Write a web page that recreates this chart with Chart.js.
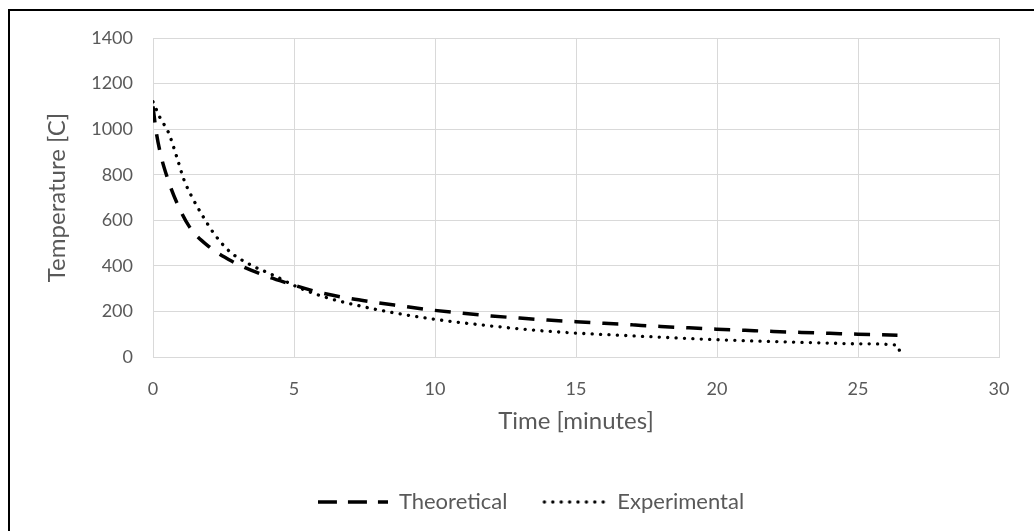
<!DOCTYPE html>
<html><head><meta charset="utf-8">
<script src="https://cdn.jsdelivr.net/npm/chart.js@4.4.1/dist/chart.umd.min.js"></script>
<style>
html,body{margin:0;padding:0;background:#fff;overflow:hidden;}
#wrap{position:relative;width:1034px;height:531px;overflow:hidden;}
#frame{position:absolute;left:8px;top:9px;width:1040px;height:540px;border-left:2px solid #000;border-top:2px solid #000;pointer-events:none;}
canvas{position:absolute;left:0;top:0;}
</style></head><body>
<div id="wrap"><canvas id="c" width="1034" height="531"></canvas><div id="frame"></div></div>
<script>
// Theoretical series (time in minutes, temperature in C)
const theoTime = [0, 0.1, 0.25, 0.5, 0.85, 1.3, 2.0, 2.8, 3.8, 4.75, 5.7, 6.7, 7.8, 8.8, 9.9, 10.9, 12, 13, 14, 15, 16, 17, 18, 19, 20, 21, 22, 23, 24, 25, 26.4];
const theoTemp = [1100, 1000, 900, 790, 676, 570, 483, 420, 365, 325, 290, 263, 241, 224, 206, 193, 180, 171, 162, 155, 148, 141, 134, 128, 122, 117, 112, 108, 104, 100, 96];
// Experimental series
const expTime = [0, 0.25, 0.55, 0.85, 1.1, 1.4, 1.7, 2.15, 2.7, 3.5, 4.25, 5.2, 6.2, 7.2, 8.4, 9.9, 11.7, 13.5, 15, 16.5, 18, 20, 22, 24, 25, 26.4, 26.5, 26.7];
const expTemp = [1120, 1050, 985, 875, 777, 698, 632, 544, 465, 402, 360, 303, 259, 228, 197, 167, 140, 118, 105, 96, 87, 76, 68, 61, 58, 52, 22, 22];
const seriesNames = ['Theoretical', 'Experimental'];
const xTicks = [0, 5, 10, 15, 20, 25, 30];
const yTicks = [0, 200, 400, 600, 800, 1000, 1200, 1400];
const xTitle = 'Time [minutes]';
const yTitle = 'Temperature [C]';

const toPts = (xs, ys) => xs.map((x, i) => ({x: x, y: ys[i]}));
const FONT = 'Lato';
const TXT = '#595959';
const GRID = '#d9d9d9';
const PAD_L = 28, PAD_B = 8;

// legend marker images (styling only)
function makeMarker(w, h, dash, lw, cap, x0, x1) {
  const c = document.createElement('canvas'); c.width = w; c.height = h;
  const g = c.getContext('2d');
  g.strokeStyle = '#000'; g.lineWidth = lw; g.lineCap = cap; g.setLineDash(dash);
  g.beginPath(); g.moveTo(x0, h / 2); g.lineTo(x1, h / 2); g.stroke();
  return c;
}
const markers = [
  makeMarker(70, 8, [19, 11], 3.5, 'butt', 0, 70),
  makeMarker(70, 8, [0.1, 8.3], 3.3, 'round', 8, 69)
];

new Chart(document.getElementById('c'), {
  type: 'line',
  data: {
    datasets: [
      {
        label: seriesNames[0],
        data: toPts(theoTime, theoTemp),
        borderColor: '#000', backgroundColor: '#000',
        borderWidth: 3.5, borderDash: [16, 12], borderCapStyle: 'butt',
        pointRadius: 0, cubicInterpolationMode: 'monotone', fill: false
      },
      {
        label: seriesNames[1],
        data: toPts(expTime, expTemp),
        borderColor: '#000', backgroundColor: '#000',
        borderWidth: 3.3, borderDash: [0.1, 8.3], borderCapStyle: 'round',
        pointRadius: 0, cubicInterpolationMode: 'monotone', fill: false
      }
    ]
  },
  options: {
    responsive: false, animation: false,
    layout: {padding: {left: PAD_L, right: 0, top: 38, bottom: PAD_B}},
    scales: {
      x: {
        type: 'linear', min: 0, max: 30,
        afterBuildTicks: s => { s.ticks = xTicks.map(v => ({value: v})); },
        afterFit: s => { const lg = s.chart.legend ? s.chart.legend.height : 0; s.height = s.chart.height - PAD_B - lg - 357; },
        grid: {color: GRID, lineWidth: 1, drawTicks: false},
        border: {color: GRID, width: 1},
        ticks: {color: TXT, font: {family: FONT, size: 18}, padding: 21, callback: v => String(v)},
        title: {display: true, text: xTitle, color: TXT, font: {family: FONT, size: 24}, padding: {top: 6, bottom: 26}}
      },
      y: {
        min: 0, max: 1400,
        afterBuildTicks: s => { s.ticks = yTicks.map(v => ({value: v})); },
        afterFit: s => { s.width = 153 - PAD_L; },
        grid: {color: GRID, lineWidth: 1, drawTicks: false},
        border: {color: GRID, width: 1},
        ticks: {color: TXT, font: {family: FONT, size: 18}, padding: 20, callback: v => String(v)},
        title: {display: true, text: yTitle, color: TXT, font: {family: FONT, size: 24}, padding: {top: 15, bottom: 0}}
      },
      y2: {
        position: 'right', display: true, min: 0, max: 1400,
        grid: {display: false}, border: {display: false}, ticks: {display: false},
        afterFit: s => { s.width = 35; }
      }
    },
    plugins: {
      legend: {
        position: 'bottom',
        labels: {
          usePointStyle: true, pointStyleWidth: 70, boxWidth: 70, boxHeight: 20,
          color: TXT, font: {family: FONT, size: 22}, padding: 29,
          generateLabels: chart => Chart.defaults.plugins.legend.labels.generateLabels(chart)
            .map((it, i) => Object.assign(it, {pointStyle: markers[i]}))
        }
      },
      tooltip: {enabled: false}
    }
  }
});
</script>
</body></html>
